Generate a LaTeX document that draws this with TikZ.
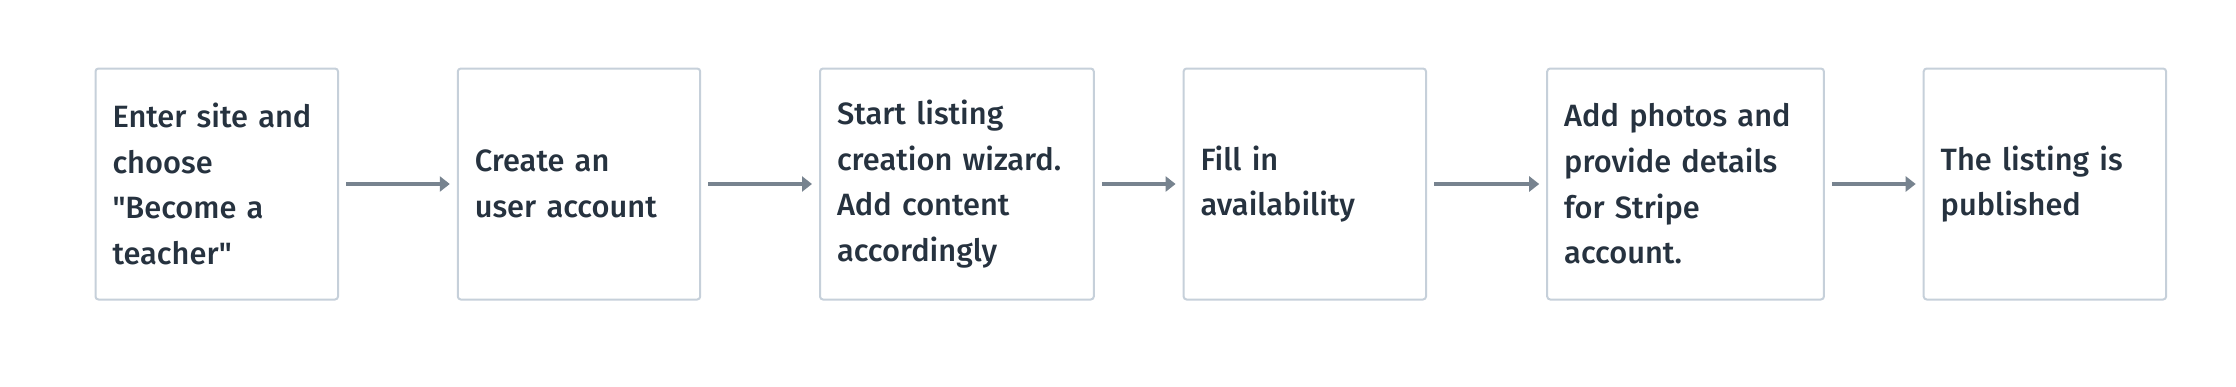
\documentclass[tikz,border=0pt]{standalone}
\usepackage{fontspec}
\newfontfamily\boxfont{Fira Sans}[UprightFont=* Medium, Ligatures=ResetAll]
\usetikzlibrary{arrows.meta}
\definecolor{txt}{HTML}{26323F}
\definecolor{brd}{HTML}{C6D0DA}
\definecolor{arr}{HTML}{77838F}
\begin{document}
\begin{tikzpicture}[x=1pt,y=-1pt,
  box/.style={draw=brd, line width=2pt, rounded corners=3pt, fill=white,
    minimum height=231pt, inner xsep=17pt, inner ysep=0pt, align=left,
    text=txt, font=\boxfont\fontsize{30.8}{45.6}\selectfont},
  flow/.style={draw=arr, line width=4.5pt, -{Triangle[length=10pt,width=15pt]},
    shorten <=7pt, shorten >=7pt}]
\useasboundingbox (0,0) rectangle (2236,386);
\node[box, text width=208.5pt] (b1) at (216.75,184) {Enter site and\\choose\\"Become a\\teacher"};
\node[box, text width=208.4pt] (b2) at (579,184) {Create an\\user account};
\node[box, text width=239.8pt] (b3) at (956.9,184) {Start listing\\creation wizard.\\Add content\\accordingly};
\node[box, text width=208.4pt] (b4) at (1304.8,184) {Fill in\\availability};
\node[box, text width=242.7pt] (b5) at (1685.55,184) {Add photos and\\provide details\\for Stripe\\account.};
\node[box, text width=208.4pt] (b6) at (2044.9,184) {The listing is\\published};
\draw[flow] (b1) -- (b2);
\draw[flow] (b2) -- (b3);
\draw[flow] (b3) -- (b4);
\draw[flow] (b4) -- (b5);
\draw[flow] (b5) -- (b6);
\end{tikzpicture}
\end{document}
